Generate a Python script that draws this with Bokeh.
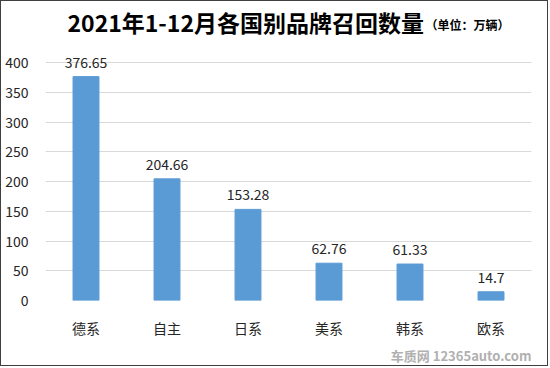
from bokeh.plotting import figure
from bokeh.models import ColumnDataSource, Label, LabelSet, FixedTicker, Title
from bokeh.embed import file_html
from bokeh.resources import INLINE
from bokeh.core.properties import value

categories = ["德系", "自主", "日系", "美系", "韩系", "欧系"]
values = [376.65, 204.66, 153.28, 62.76, 61.33, 14.7]
value_labels = ["376.65", "204.66", "153.28", "62.76", "61.33", "14.7"]
y_ticks = [0, 50, 100, 150, 200, 250, 300, 350, 400]

FONT = "Noto Sans CJK SC"

src = ColumnDataSource(dict(cat=categories, val=values, lab=value_labels))

# frame spans from near the top so the title can sit inside it
p = figure(x_range=categories, y_range=(0, 494.6), width=548, height=366,
           output_backend="svg", toolbar_location=None,
           min_border_left=44, min_border_right=18, min_border_top=5, min_border_bottom=63)
p.styles = {"border": "1px solid #404040"}
p.outline_line_color = None
p.background_fill_color = "white"

p.vbar(x="cat", top="val", width=0.32, source=src, color="#5b9bd5")

p.add_layout(LabelSet(x="cat", y="val", text="lab", source=src, text_align="center",
                      text_baseline="bottom", y_offset=9, text_font_size="14px",
                      text_font=value(FONT), text_color="#262626"))

p.yaxis.ticker = FixedTicker(ticks=y_ticks)
p.yaxis.axis_line_color = None
p.yaxis.major_tick_line_color = None
p.yaxis.minor_tick_line_color = None
p.yaxis.major_label_text_font_size = "14px"
p.yaxis.major_label_text_font = FONT
p.yaxis.major_label_text_color = "#262626"
p.yaxis.major_label_standoff = 11

p.xaxis.axis_line_color = None
p.xaxis.major_tick_line_color = None
p.xaxis.major_label_text_font_size = "14px"
p.xaxis.major_label_text_font = FONT
p.xaxis.major_label_text_color = "#262626"
p.xaxis.major_label_standoff = 11

p.xgrid.grid_line_color = None
p.ygrid.grid_line_color = "#d9d9d9"

p.add_layout(Label(x=22, y=279, x_units="screen", y_units="screen",
                   text="2021年1-12月各国别品牌召回数量", text_font=FONT,
                   text_baseline="middle",
                   text_font_size="23px", text_font_style="bold", text_color="black"))
p.add_layout(Label(x=380, y=276, x_units="screen", y_units="screen",
                   text="（单位：万辆）", text_font=FONT, text_baseline="middle",
                   text_font_size="12px", text_font_style="bold", text_color="black"))

wm = Title(text="车质网 12365auto.com", align="right", text_font=FONT,
           text_font_size="13px", text_font_style="bold", text_color="#b0b0b0",
           standoff=6)
p.add_layout(wm, "below")

open("out.html", "w").write(file_html(p, INLINE))
